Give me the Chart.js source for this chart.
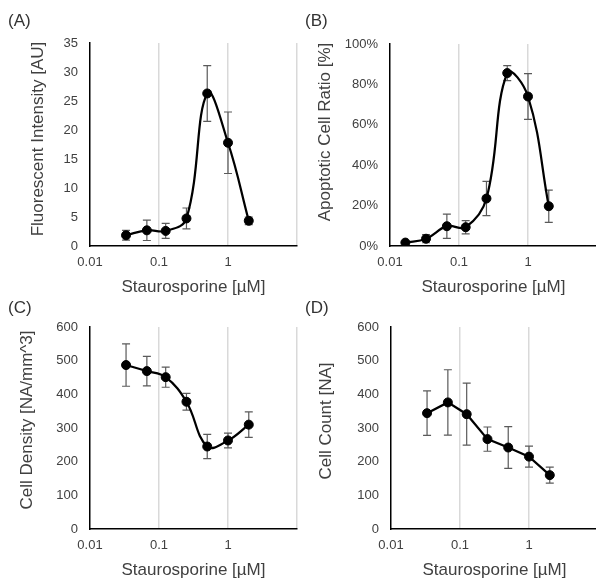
<!DOCTYPE html>
<html>
<head>
<meta charset="utf-8">
<script src="https://cdn.jsdelivr.net/npm/chart.js@4.4.0/dist/chart.umd.min.js"></script>
<style>
  body { margin: 0; background: #fff; }
  #page { position: relative; width: 596px; height: 583px; overflow: hidden; font-family: 'Liberation Sans', Arial, sans-serif; }
  .panel { position: absolute; overflow: hidden; }
  .tag { position: absolute; font-size: 17px; line-height: 20px; color: #333; }
</style>
</head>
<body>
<div id="page">
  <div class="panel" style="left:0;top:0;width:298px;height:300px"><canvas id="chartA"></canvas></div>
  <div class="panel" style="left:298px;top:0;width:298px;height:300px"><canvas id="chartB"></canvas></div>
  <div class="panel" style="left:0;top:288px;width:298px;height:295px"><canvas id="chartC"></canvas></div>
  <div class="panel" style="left:298px;top:288px;width:298px;height:295px"><canvas id="chartD"></canvas></div>
  <div class="tag" style="left:8px;top:11px">(A)</div>
  <div class="tag" style="left:305px;top:11px">(B)</div>
  <div class="tag" style="left:8px;top:298px">(C)</div>
  <div class="tag" style="left:305px;top:298px">(D)</div>
</div>
<script>
// staurosporine doses [uM]
const doses = [0.0333, 0.0667, 0.125, 0.25, 0.5, 1, 2];
const dosesB = [0.0167, 0.0333, 0.0667, 0.125, 0.25, 0.5, 1, 2];
const xTicks = [0.01, 0.1, 1, 10];

// (A) fluorescent intensity [AU]
const intensityMean = [1.85, 2.7, 2.6, 4.75, 26.3, 17.8, 4.35];
const intensityErr = [0.85, 1.75, 1.3, 1.8, 4.8, 5.3, 0.65];
// (B) apoptotic cell ratio
const apoptoticMean = [0.017, 0.036, 0.098, 0.093, 0.235, 0.856, 0.74, 0.197];
const apoptoticErr = [0.005, 0.02, 0.06, 0.033, 0.085, 0.037, 0.113, 0.08];
// (C) cell density [NA/mm^3]
const densityMean = [487, 469, 451, 378, 245, 263, 310];
const densityErr = [63, 44, 30, 25, 36, 22, 38];
// (D) cell count [NA]
const countMean = [344, 376, 341, 267, 242, 215, 160];
const countErr = [66, 97, 92, 36, 62, 31, 24];

const textColor = '#404040';
Chart.defaults.font.family = "'Liberation Sans', Arial, sans-serif";
Chart.defaults.color = textColor;

// vertical error bars, drawn under the markers
const errorBars = {
  id: 'errorBars',
  beforeDatasetsDraw(chart, args, opts) {
    const { ctx, scales: { x, y } } = chart;
    const pts = chart.data.datasets[0].data;
    ctx.save();
    ctx.strokeStyle = '#5a5a5a';
    ctx.lineWidth = 1.2;
    pts.forEach((p, i) => {
      const px = x.getPixelForValue(p.x);
      const top = y.getPixelForValue(p.y + opts.errors[i]);
      const bot = y.getPixelForValue(p.y - opts.errors[i]);
      ctx.beginPath();
      ctx.moveTo(px, top); ctx.lineTo(px, bot);
      ctx.moveTo(px - 4, top); ctx.lineTo(px + 4, top);
      ctx.moveTo(px - 4, bot); ctx.lineTo(px + 4, bot);
      ctx.stroke();
    });
    ctx.restore();
  }
};

// y axis title placed like the original (a bit above the plot centre)
const sideTitle = {
  id: 'sideTitle',
  afterDraw(chart, args, opts) {
    const ctx = chart.ctx;
    ctx.save();
    ctx.translate(opts.x, opts.y);
    ctx.rotate(-Math.PI / 2);
    ctx.font = "17px 'Liberation Sans', Arial, sans-serif";
    ctx.fillStyle = textColor;
    ctx.textAlign = 'center';
    ctx.textBaseline = 'middle';
    ctx.fillText(opts.text, 0, 0);
    ctx.restore();
  }
};

function makeChart(id, cfg) {
  const canvas = document.getElementById(id);
  canvas.width = cfg.w;
  canvas.height = cfg.h;
  return new Chart(canvas, {
    type: 'scatter',
    data: {
      datasets: [{
        data: cfg.xs.map((v, i) => ({ x: v, y: cfg.ys[i] })),
        showLine: true,
        borderColor: '#000',
        backgroundColor: '#000',
        borderWidth: 2.25,
        pointRadius: 4.5,
        pointBorderWidth: 1,
        pointHoverRadius: 4.5,
        tension: cfg.tension
      }]
    },
    options: {
      responsive: false,
      animation: false,
      layout: { padding: { top: cfg.top, left: 0, right: 0, bottom: 0 } },
      plugins: {
        legend: { display: false },
        tooltip: { enabled: false },
        errorBars: { errors: cfg.err },
        sideTitle: { text: cfg.yTitle, x: cfg.tx, y: cfg.ty }
      },
      scales: {
        x: {
          type: 'logarithmic',
          min: 0.01,
          max: 10,
          afterBuildTicks: s => { s.ticks = xTicks.map(v => ({ value: v })); },
          afterFit: s => { s.height = 54; },
          ticks: {
            callback: v => (v === 10 ? '' : String(v)),
            padding: 9,
            maxRotation: 0,
            autoSkip: false,
            font: { size: 13 }
          },
          grid: {
            drawTicks: false,
            lineWidth: 1.5,
            color: c => (c.tick && c.tick.value === 0.01 ? 'rgba(0,0,0,0)' : '#d9d9d9')
          },
          border: { color: '#000', width: 1.5 },
          title: {
            display: true,
            text: 'Staurosporine [µM]',
            font: { size: 17 },
            padding: { top: 0, bottom: 2 }
          }
        },
        y: {
          min: 0,
          max: cfg.yMax,
          afterFit: s => { s.width = cfg.left; },
          ticks: { stepSize: cfg.step, padding: 12, callback: cfg.fmt, font: { size: 13 } },
          grid: { display: false, drawTicks: false },
          border: { color: '#000', width: 1.5 }
        }
      }
    },
    plugins: [errorBars, sideTitle]
  });
}

const plain = v => String(v);
const percent = v => Math.round(v * 100) + '%';

makeChart('chartA', { w: 306, h: 300, left: 90, top: 43, xs: doses, ys: intensityMean, err: intensityErr,
  yMax: 35, step: 5, fmt: plain, tension: 0.4, yTitle: 'Fluorescent Intensity [AU]', tx: 38, ty: 139 });
makeChart('chartB', { w: 308, h: 300, left: 92, top: 44, xs: dosesB, ys: apoptoticMean, err: apoptoticErr,
  yMax: 1, step: 0.2, fmt: percent, tension: 0.4, yTitle: 'Apoptotic Cell Ratio [%]', tx: 27, ty: 132 });
makeChart('chartC', { w: 306, h: 295, left: 90, top: 39, xs: doses, ys: densityMean, err: densityErr,
  yMax: 600, step: 100, fmt: plain, tension: 0.4, yTitle: 'Cell Density [NA/mm^3]', tx: 27, ty: 132 });
makeChart('chartD', { w: 309, h: 295, left: 93, top: 39, xs: doses, ys: countMean, err: countErr,
  yMax: 600, step: 100, fmt: plain, tension: 0, yTitle: 'Cell Count [NA]', tx: 28, ty: 133 });
</script>
</body>
</html>
